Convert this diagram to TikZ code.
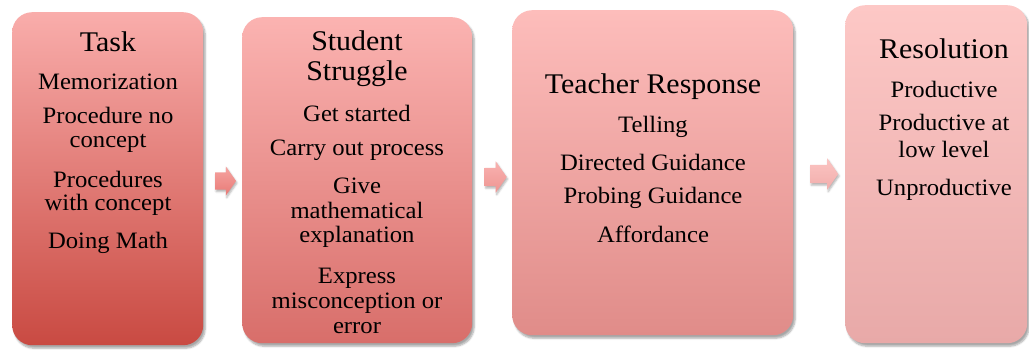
\documentclass[tikz,border=0pt]{standalone}
\usepackage{fontspec}
\setmainfont{Liberation Serif}[FakeStretch=1.05]
\usetikzlibrary{shapes.arrows,shadows.blur}
\definecolor{t1}{HTML}{F9ADAB}\definecolor{b1}{HTML}{C94A42}
\definecolor{t2}{HTML}{FBB3B1}\definecolor{b2}{HTML}{D86E6A}
\definecolor{t3}{HTML}{FDBDBB}\definecolor{b3}{HTML}{E08C89}
\definecolor{t4}{HTML}{FDC8C6}\definecolor{b4}{HTML}{E8A9A8}
\definecolor{a1}{HTML}{F6A4A1}\definecolor{a1b}{HTML}{E87A76}
\definecolor{a2}{HTML}{F9B2B0}\definecolor{a2b}{HTML}{EE9592}
\definecolor{a3}{HTML}{FBC4C2}\definecolor{a3b}{HTML}{F2AEAC}
\tikzset{
  panel/.style={rectangle, rounded corners=20pt, anchor=north west, inner sep=0pt,
    blur shadow={shadow xshift=2pt, shadow yshift=-3pt, shadow blur steps=6, shadow opacity=35}},
  ttl/.style={anchor=base, inner sep=0pt, font=\fontsize{28.5}{30}\selectfont},
  itm/.style={anchor=base, inner sep=0pt, font=\fontsize{23.5}{25}\selectfont},
  blk/.style={single arrow, inner xsep=0pt, single arrow head indent=0pt,
    single arrow tip angle=110,
    blur shadow={shadow xshift=1pt, shadow yshift=-2pt, shadow blur steps=4, shadow opacity=30}},
}
\begin{document}
\begin{tikzpicture}[x=1pt,y=-1pt]
\useasboundingbox (0,0) rectangle (1029,349);
% boxes
\node[panel, minimum width=191pt, minimum height=333pt, top color=t1, bottom color=b1] (box1) at (12,12) {};
\node[panel, minimum width=230pt, minimum height=326pt, top color=t2, bottom color=b2] (box2) at (242,17) {};
\node[panel, minimum width=281pt, minimum height=325pt, top color=t3, bottom color=b3] (box3) at (512,10) {};
\node[panel, minimum width=182pt, minimum height=338pt, top color=t4, bottom color=b4] (box4) at (845,5) {};
% arrows
\node[blk, inner ysep=8.5pt, minimum height=21pt, single arrow head extend=6pt, top color=a1, bottom color=a1b] (ar1) at (222.5,181) {};
\node[blk, inner ysep=9pt, minimum height=22pt, single arrow head extend=6.5pt, top color=a2, bottom color=a2b] (ar2) at (492.5,177) {};
\node[blk, inner ysep=9pt, minimum height=28pt, single arrow head extend=6.5pt, top color=a3, bottom color=a3b] (ar3) at (821,174) {};
% texts box 1
\node[ttl] (x1t) at (108,51) {Task};
\foreach \t/\y [count=\i] in {Memorization/89, Procedure no/123, concept/147, Procedures/187, with concept/210, Doing Math/248}
  \node[itm] (x1-\i) at (108,\y) {\t};
% box 2
\node[ttl] (x2ta) at (357,50) {Student};
\node[ttl] (x2tb) at (357,80) {Struggle};
\foreach \t/\y [count=\i] in {Get started/121, Carry out process/155, Give/193, mathematical/218, explanation/242, Express/283, misconception or/308, error/333}
  \node[itm] (x2-\i) at (357,\y) {\t};
% box 3
\node[ttl] (x3t) at (653,93) {Teacher Response};
\foreach \t/\y [count=\i] in {Telling/132, Directed Guidance/170, Probing Guidance/203, Affordance/242}
  \node[itm] (x3-\i) at (653,\y) {\t};
% box 4
\node[ttl] (x4t) at (944,58) {Resolution};
\foreach \t/\y [count=\i] in {Productive/97, Productive at/130, low level/157, Unproductive/195}
  \node[itm] (x4-\i) at (944,\y) {\t};
\end{tikzpicture}
\end{document}
